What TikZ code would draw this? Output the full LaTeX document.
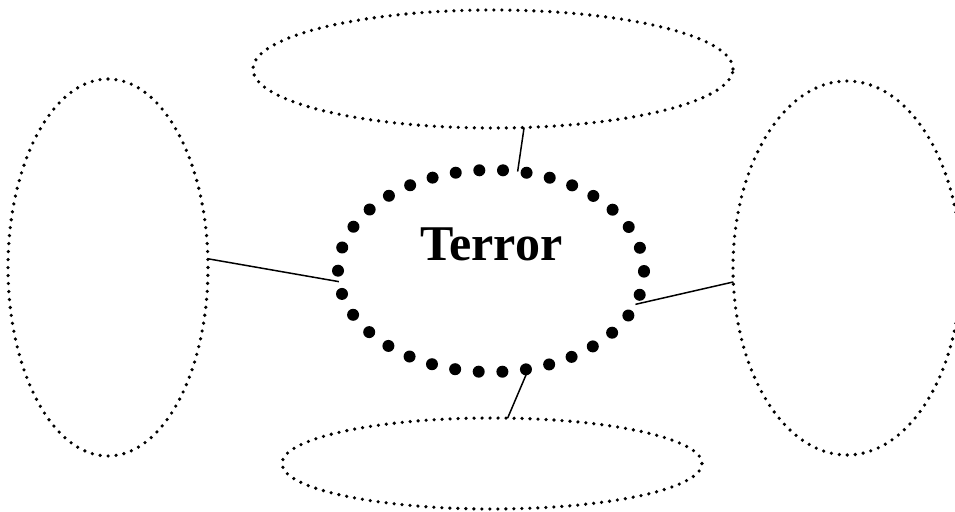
\documentclass[tikz,border=0pt]{standalone}
\usepackage{fontspec}
\setmainfont{Liberation Serif}
\usetikzlibrary{shapes.geometric}
\tikzset{
  smallring/.style={ellipse, draw, inner sep=0pt, outer sep=0pt, line width=3.6pt,
    line cap=round, dash pattern=on 0pt off 8pt},
  bigring/.style={ellipse, draw, inner sep=0pt, outer sep=0pt, line width=12pt,
    line cap=round, dash pattern=on 0pt off 23.7pt},
  link/.style={line width=1.5pt},
}
\begin{document}
\begin{tikzpicture}[x=1pt,y=-1pt]
\useasboundingbox (0,0) rectangle (955,511);
\clip (0,0) rectangle (955,511);
\node[smallring, minimum width=480pt, minimum height=118pt] (top) at (493,69) {};
\node[smallring, minimum width=200pt, minimum height=377pt] (left) at (108,267.5) {};
\node[smallring, minimum width=228pt, minimum height=374pt] (right) at (847,268) {};
\node[smallring, minimum width=420pt, minimum height=91pt] (bottom) at (492,463.5) {};
\node[bigring, minimum width=306pt, minimum height=202pt] (terror) at (491,271) {};
\node[anchor=base, inner sep=0pt, font=\bfseries\fontsize{50}{60}\selectfont] (label) at (491.5,260.5) {Terror};
\draw[link] (top.-62.3) -- (terror.75.6);
\draw[link] (left.5.8) -- (terror.184.1);
\draw[link] (terror.-13.6) -- (right.187.6);
\draw[link] (terror.-69.6) -- (bottom.71.4);
\end{tikzpicture}
\end{document}
